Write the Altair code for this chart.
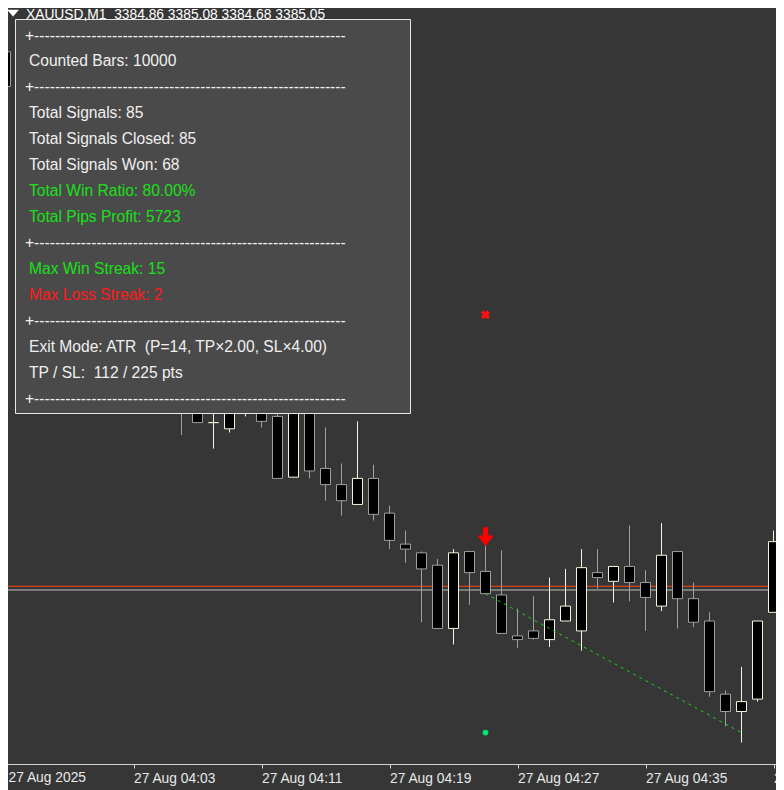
import altair as alt
import pandas as pd

# ---------------- data ----------------
# minutes after 27 Aug 03:55 (one M1 bar per minute)
times = [0, 11, 12, 13, 14, 15, 16, 17, 18, 19, 20, 21, 22, 23, 24, 25, 26, 27, 28, 29,
         30, 31, 32, 33, 34, 35, 36, 37, 38, 39, 40, 41, 42, 43, 44, 45, 46, 47, 48]
opens = [3389.20, 3386.41, 3386.39, 3386.21, 3386.16, 3386.33, 3386.35, 3386.26, 3385.77, 3386.35,
         3385.84, 3385.71, 3385.55, 3385.76, 3385.48, 3385.23, 3385.16, 3385.06, 3384.55, 3385.17,
         3385.01, 3384.82, 3384.49, 3384.53, 3384.46, 3384.61, 3384.53, 3385.00, 3384.93, 3385.05,
         3384.92, 3384.73, 3385.17, 3384.79, 3384.61, 3384.02, 3383.88, 3383.98, 3384.68]
highs = [3389.31, 3386.43, 3386.41, 3386.38, 3386.39, 3386.41, 3386.39, 3386.31, 3386.37, 3386.37,
         3386.17, 3385.88, 3386.22, 3385.87, 3385.54, 3385.34, 3385.17, 3385.11, 3385.19, 3385.17,
         3385.23, 3385.18, 3384.71, 3384.81, 3384.96, 3385.03, 3385.19, 3385.19, 3385.05, 3385.38,
         3385.02, 3385.40, 3385.17, 3384.92, 3384.68, 3384.05, 3384.24, 3384.61, 3385.34]
lows = [3388.57, 3386.11, 3386.21, 3386.00, 3386.13, 3386.26, 3386.17, 3385.76, 3385.77, 3385.76,
        3385.58, 3385.46, 3385.55, 3385.42, 3385.19, 3385.08, 3384.60, 3384.55, 3384.42, 3384.74,
        3384.83, 3384.51, 3384.39, 3384.46, 3384.40, 3384.61, 3384.37, 3384.87, 3384.76, 3384.77,
        3384.53, 3384.69, 3384.55, 3384.56, 3384.00, 3383.76, 3383.63, 3383.96, 3384.68]
closes = [3388.92, 3386.35, 3386.21, 3386.21, 3386.35, 3386.39, 3386.22, 3385.76, 3386.35, 3385.82,
          3385.71, 3385.58, 3385.76, 3385.47, 3385.26, 3385.19, 3385.03, 3384.55, 3385.16, 3385.00,
          3384.83, 3384.51, 3384.46, 3384.47, 3384.62, 3384.73, 3385.04, 3384.96, 3385.05, 3384.92,
          3384.80, 3385.14, 3384.79, 3384.60, 3384.04, 3383.88, 3383.96, 3384.61, 3385.25]

tick_minutes = [0, 8, 16, 24, 32, 40, 48]
tick_labels = ["27 Aug 2025", "27 Aug 04:03", "27 Aug 04:11", "27 Aug 04:19",
               "27 Aug 04:27", "27 Aug 04:35", "27 Aug 04:43"]

bid_price = 3384.86
ask_price = 3384.89

signal_t = 30
signal_arrow_price = 3385.29
entry_price = 3384.83
sl_price = 3387.08
tp_price = 3383.71
exit_t = 46

header_text = "XAUUSD,M1\u00a0\u00a03384.86 3385.08 3384.68 3385.05"

SEP = "+" + "-" * 60
panel_lines = [SEP, "Counted Bars: 10000", SEP, "Total Signals: 85", "Total Signals Closed: 85",
               "Total Signals Won: 68", "Total Win Ratio: 80.00%", "Total Pips Profit: 5723", SEP,
               "Max Win Streak: 15", "Max Loss Streak: 2", SEP,
               "Exit Mode: ATR\u00a0 (P=14, TP\u00d72.00, SL\u00d74.00)", "TP / SL:\u00a0 112 / 225 pts", SEP]
panel_kinds = ["n", "n", "n", "n", "n", "n", "g", "g", "n", "g", "r", "n", "n", "n", "n"]

# ---------------- style / layout ----------------
BG = "#363636"
PANEL = "#4a4a4a"
CREAM = "#f5f5dc"
GREY = "#a0a0a0"
TXT = "#f0f0f0"
AXIS_TXT = "#e8e8e8"
GREEN_TXT = "#19e019"
RED_TXT = "#ff1a1a"
FONT = "Liberation Sans"
W, H = 768, 756          # plot area (page offset 8px)
TOTAL_H = 782
PX_PER_MIN = 16
PX_PER_USD = 124
TICK, LPAD, LSIZE = 4, 3, 13.8

x0 = -2.5                # pixel of minute 0
x_scale = alt.Scale(domain=[-x0 / PX_PER_MIN, (W - x0) / PX_PER_MIN], nice=False, zero=False)
y_top = bid_price + 582 / PX_PER_USD
y_scale = alt.Scale(domain=[y_top - H / PX_PER_USD, y_top], nice=False, zero=False)
dir_scale = alt.Scale(domain=["up", "down"], range=[CREAM, GREY])

df = pd.DataFrame({"t": times, "open": opens, "high": highs, "low": lows, "close": closes})
df["dir"] = ["up" if c >= o else "down" for o, c in zip(opens, closes)]

label_expr = "[" + ",".join("'" + s + "'" for s in tick_labels) + "][round(datum.value / 8)]"

base = alt.Chart(df)

wicks = base.mark_rule(strokeWidth=1, clip=True).encode(
    x=alt.X("t:Q", scale=x_scale, axis=alt.Axis(
        values=tick_minutes, labelExpr=label_expr, domain=False, grid=False, ticks=True,
        tickSize=TICK, tickColor="#d0d0d0", tickWidth=1, labelColor=AXIS_TXT, labelFont=FONT,
        labelFontSize=LSIZE, labelAlign="left", labelBaseline="top", labelPadding=LPAD,
        labelFlush=False, labelOverlap=False, labelBound=False, title=None)),
    y=alt.Y("low:Q", scale=y_scale, axis=None),
    y2="high:Q",
    color=alt.Color("dir:N", scale=dir_scale, legend=None),
)

bodies = base.transform_calculate(
    x1="datum.t - 0.3125", x2="datum.t + 0.3125"
).mark_rect(fill="#000000", strokeWidth=1, clip=True).encode(
    x=alt.X("x1:Q", scale=x_scale),
    x2="x2:Q",
    y=alt.Y("open:Q", scale=y_scale, axis=None),
    y2="close:Q",
    stroke=alt.Stroke("dir:N", scale=dir_scale, legend=None),
)

# first time label sits at the very left edge (its tick is outside the visible range)
first_label = alt.Chart(pd.DataFrame({"t": [tick_minutes[0]], "s": [tick_labels[0]]})).mark_text(
    align="left", baseline="top", dx=3, font=FONT, fontSize=LSIZE, color=AXIS_TXT).encode(
    x=alt.X("t:Q", scale=x_scale), y=alt.value(H + TICK + LPAD), text="s:N")

def hline(price, color):
    return alt.Chart(pd.DataFrame({"p": [price]})).mark_rule(color=color, strokeWidth=1).encode(
        y=alt.Y("p:Q", scale=y_scale, axis=None), x=alt.value(0), x2=alt.value(W))

ask_line = hline(ask_price, "#ff4500")
bid_line = hline(bid_price, "#c0c0c0")

trade = alt.Chart(pd.DataFrame({"t": [signal_t, exit_t], "p": [entry_price, tp_price]})).mark_line(
    color="#1ed21e", strokeWidth=1, strokeDash=[3, 4]).encode(
    x=alt.X("t:Q", scale=x_scale), y=alt.Y("p:Q", scale=y_scale, axis=None))

ARROW = "M-0.27,-1 L0.27,-1 L0.27,-0.12 L0.85,-0.12 L0,1 L-0.85,-0.12 L-0.27,-0.12 Z"
arrow = alt.Chart(pd.DataFrame({"t": [signal_t], "p": [signal_arrow_price]})).mark_point(
    shape=ARROW, size=361, filled=True, color="#ff0000", opacity=1, strokeWidth=0).encode(
    x=alt.X("t:Q", scale=x_scale), y=alt.Y("p:Q", scale=y_scale, axis=None))

sl_mark = alt.Chart(pd.DataFrame({"t": [signal_t], "p": [sl_price]})).mark_point(
    shape="cross", angle=45, size=81, filled=True, color="#ff1010", opacity=1, strokeWidth=0).encode(
    x=alt.X("t:Q", scale=x_scale), y=alt.Y("p:Q", scale=y_scale, axis=None))

tp_mark = alt.Chart(pd.DataFrame({"t": [signal_t], "p": [tp_price]})).mark_circle(
    size=33, color="#00e676", opacity=1).encode(
    x=alt.X("t:Q", scale=x_scale), y=alt.Y("p:Q", scale=y_scale, axis=None))

one = pd.DataFrame({"a": [0]})

panel = alt.Chart(one).mark_rect(fill=PANEL, stroke="#e6e6e6", strokeWidth=1).encode(
    x=alt.value(7.5), x2=alt.value(402.5), y=alt.value(11.5), y2=alt.value(405.5))

kind_color = {"n": TXT, "g": GREEN_TXT, "r": RED_TXT}
text_layers = []
for i, (s, k) in enumerate(zip(panel_lines, panel_kinds)):
    xpos = 17 if s.startswith("+") else 21
    text_layers.append(
        alt.Chart(pd.DataFrame({"s": [s]})).mark_text(
            align="left", baseline="middle", font=FONT, fontSize=15.6, color=kind_color[k]
        ).encode(text="s:N", x=alt.value(xpos), y=alt.value(27.5 + 25.93 * i))
    )

TRI = "M-1,-0.55 L1,-0.55 L0,0.6 Z"
hdr_tri = alt.Chart(one).mark_point(shape=TRI, size=144, filled=True, color="#ffffff",
                                    opacity=1, strokeWidth=0).encode(
    x=alt.value(5), y=alt.value(5))
hdr_txt = alt.Chart(pd.DataFrame({"s": [header_text]})).mark_text(
    align="left", baseline="middle", font=FONT, fontSize=13.8, color="#ffffff").encode(
    text="s:N", x=alt.value(18), y=alt.value(6.5))

frame_h = alt.Chart(one).mark_rule(color="#d0d0d0", strokeWidth=1).encode(
    x=alt.value(0), x2=alt.value(W), y=alt.value(H + 0.5))

chart = alt.layer(
    ask_line, bid_line, wicks, bodies, trade, arrow, sl_mark, tp_mark, first_label,
    panel, *text_layers, hdr_tri, hdr_txt, frame_h
).properties(
    width=W, height=H,
    padding={"left": 0, "top": 0, "right": 0, "bottom": TOTAL_H - H},
    autosize=alt.AutoSizeParams(type="none"),
    background=BG,
).configure_view(stroke=None, strokeWidth=0)

chart.save("out.html", embed_options={"renderer": "svg", "actions": False})
